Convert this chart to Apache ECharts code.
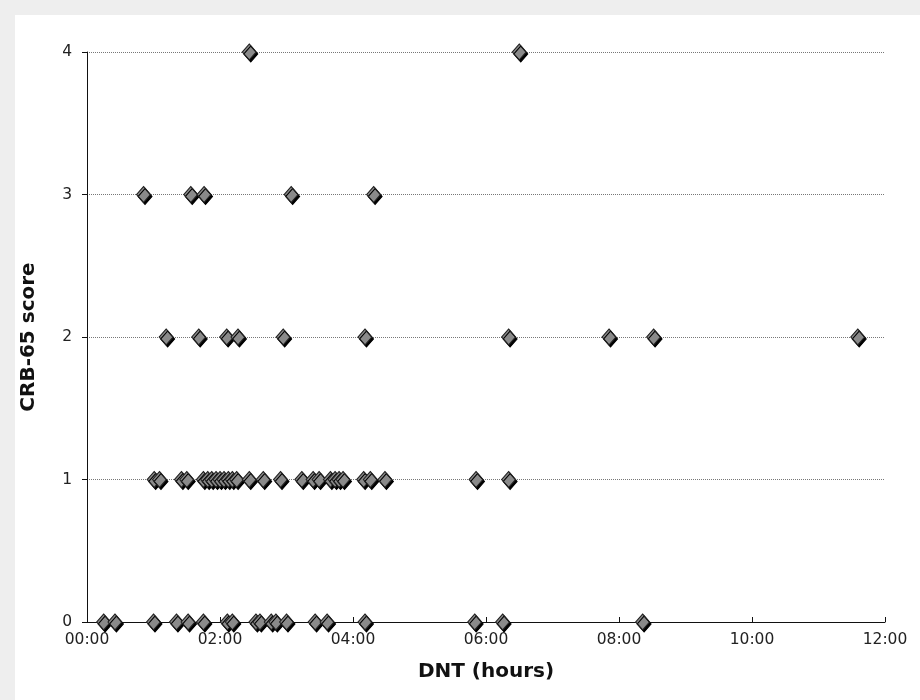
<!DOCTYPE html>
<html>
<head>
<meta charset="utf-8">
<script src="https://cdn.jsdelivr.net/npm/echarts@6/dist/echarts.min.js"></script>
<style>
  html, body { margin: 0; padding: 0; background: #fff; }
  #main { width: 920px; height: 700px; }
</style>
</head>
<body>
<div id="main"></div>
<script>
// DNT in hours for each CRB-65 score
var score0 = [0.25, 0.42, 1.0, 1.345, 1.52, 1.75, 2.11, 2.185, 2.54, 2.6, 2.77, 2.84, 3.0, 3.43, 3.61, 4.18, 5.83, 6.25, 8.355];
var score1 = [1.01, 1.09, 1.42, 1.5, 1.75, 1.815, 1.875, 1.94, 2.0, 2.06, 2.125, 2.185, 2.25, 2.44, 2.65, 2.91,
              3.23, 3.4, 3.49, 3.66, 3.73, 3.79, 3.85, 4.16, 4.26, 4.48, 5.85, 6.34];
var score2 = [1.19, 1.68, 2.1, 2.27, 2.95, 4.18, 6.34, 7.85, 8.52, 11.59];
var score3 = [0.85, 1.56, 1.76, 3.07, 4.31];
var score4 = [2.44, 6.5];

var xTicks = ['00:00', '02:00', '04:00', '06:00', '08:00', '10:00', '12:00'];

var points = [];
[score0, score1, score2, score3, score4].forEach(function (arr, s) {
  arr.forEach(function (h) { points.push([h, s]); });
});

var chart = echarts.init(document.getElementById('main'));
var font = 'DejaVu Sans, Verdana, sans-serif';

chart.setOption({
  backgroundColor: '#fff',
  animation: false,
  graphic: [
    { type: 'rect', left: 0, top: 0, shape: { width: 920, height: 15 }, style: { fill: '#eeeeee' }, z: -1 },
    { type: 'rect', left: 0, top: 0, shape: { width: 15, height: 700 }, style: { fill: '#eeeeee' }, z: -1 }
  ],
  grid: { left: 87, right: 35, top: 52, bottom: 78 },
  xAxis: {
    type: 'value',
    min: 0, max: 12, interval: 2,
    name: 'DNT (hours)',
    nameLocation: 'middle',
    nameGap: 40,
    nameTextStyle: { fontFamily: font, fontWeight: 'bold', fontSize: 20, color: '#111' },
    axisLine: { lineStyle: { color: '#111', width: 1 } },
    axisTick: { inside: true, length: 5, lineStyle: { color: '#111' } },
    axisLabel: {
      fontFamily: font, fontSize: 15.5, color: '#222', margin: 10,
      formatter: function (v) { return xTicks[v / 2]; }
    },
    splitLine: { show: false }
  },
  yAxis: {
    type: 'value',
    min: 0, max: 4, interval: 1,
    name: 'CRB-65 score',
    nameLocation: 'middle',
    nameGap: 48,
    nameRotate: 90,
    nameTextStyle: { fontFamily: font, fontWeight: 'bold', fontSize: 20, color: '#111' },
    axisLine: { show: true, lineStyle: { color: '#111', width: 1 } },
    axisTick: { show: true, length: 5, lineStyle: { color: '#111' } },
    axisLabel: { fontFamily: font, fontSize: 15.5, color: '#222', margin: 15 },
    splitLine: { lineStyle: { color: '#777', type: [1, 1], width: 1 } }
  },
  series: [{
    type: 'scatter',
    data: points,
    symbol: 'diamond',
    symbolSize: [14, 16],
    itemStyle: {
      color: '#8a8a8a',
      borderColor: '#222',
      borderWidth: 1,
      opacity: 1,
      shadowColor: '#000',
      shadowBlur: 0,
      shadowOffsetX: 1.5,
      shadowOffsetY: 2
    }
  }]
});
</script>
</body>
</html>
